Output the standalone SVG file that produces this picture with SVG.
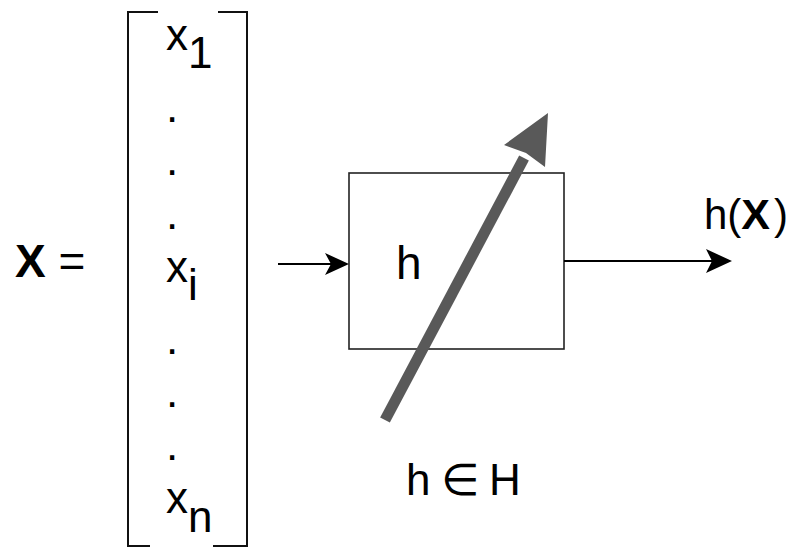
<svg xmlns="http://www.w3.org/2000/svg" width="793" height="547" viewBox="0 0 793 547">
<style>
text{font-family:"Liberation Sans",Arial,"DejaVu Sans",sans-serif;fill:#000}
.v{font-size:44px}
.br{fill:none;stroke:#111;stroke-width:2}
.conn{stroke:#000;stroke-width:1.8;fill:none}
.head{fill:#000}
</style>
<rect width="793" height="547" fill="#fff"/>
<g id="vector-label">
<text x="15" y="277" style="font-size:46px"><tspan font-weight="bold">X</tspan> =</text>
</g>
<g id="vector">
<path class="br" d="M158 12 H128 V546 H150"/>
<path class="br" d="M218 12 H247 V546 H213"/>
<text class="v" x="166" y="50">x<tspan dy="18">1</tspan></text>
<text class="v" x="166" y="122">.</text>
<text class="v" x="166" y="175">.</text>
<text class="v" x="166" y="229">.</text>
<text class="v" x="166" y="282">x<tspan dy="18">i</tspan></text>
<text class="v" x="166" y="354">.</text>
<text class="v" x="166" y="407">.</text>
<text class="v" x="166" y="460">.</text>
<text class="v" x="166" y="513">x<tspan dy="19">n</tspan></text>
</g>
<g id="h-box">
<rect x="349" y="173" width="215" height="176" fill="#fff" stroke="#222" stroke-width="1.6"/>
<text x="396" y="279" style="font-size:46px">h</text>
</g>
<g id="connectors">
<line class="conn" x1="278" y1="264" x2="335" y2="264"/>
<polygon class="head" points="349,264 325,253 331,264 325,275"/>
<line class="conn" x1="564" y1="261" x2="718" y2="261"/>
<polygon class="head" points="732,261 706,249 712,261 706,273"/>
</g>
<g id="hypothesis-arrow">
<line x1="385" y1="420" x2="524" y2="158" stroke="#595959" stroke-width="11"/>
<polygon points="548,113 545,167 526,153 504,145" fill="#595959"/>
</g>
<g id="output-label">
<text x="704" y="229" style="font-size:42px">h(<tspan font-weight="bold" style="font-size:43px">X</tspan><tspan x="774">)</tspan></text>
</g>
<g id="hypothesis-label">
<text y="495" style="font-size:44px"><tspan x="406">h</tspan><tspan x="441">∈</tspan><tspan x="489">H</tspan></text>
</g>
</svg>
